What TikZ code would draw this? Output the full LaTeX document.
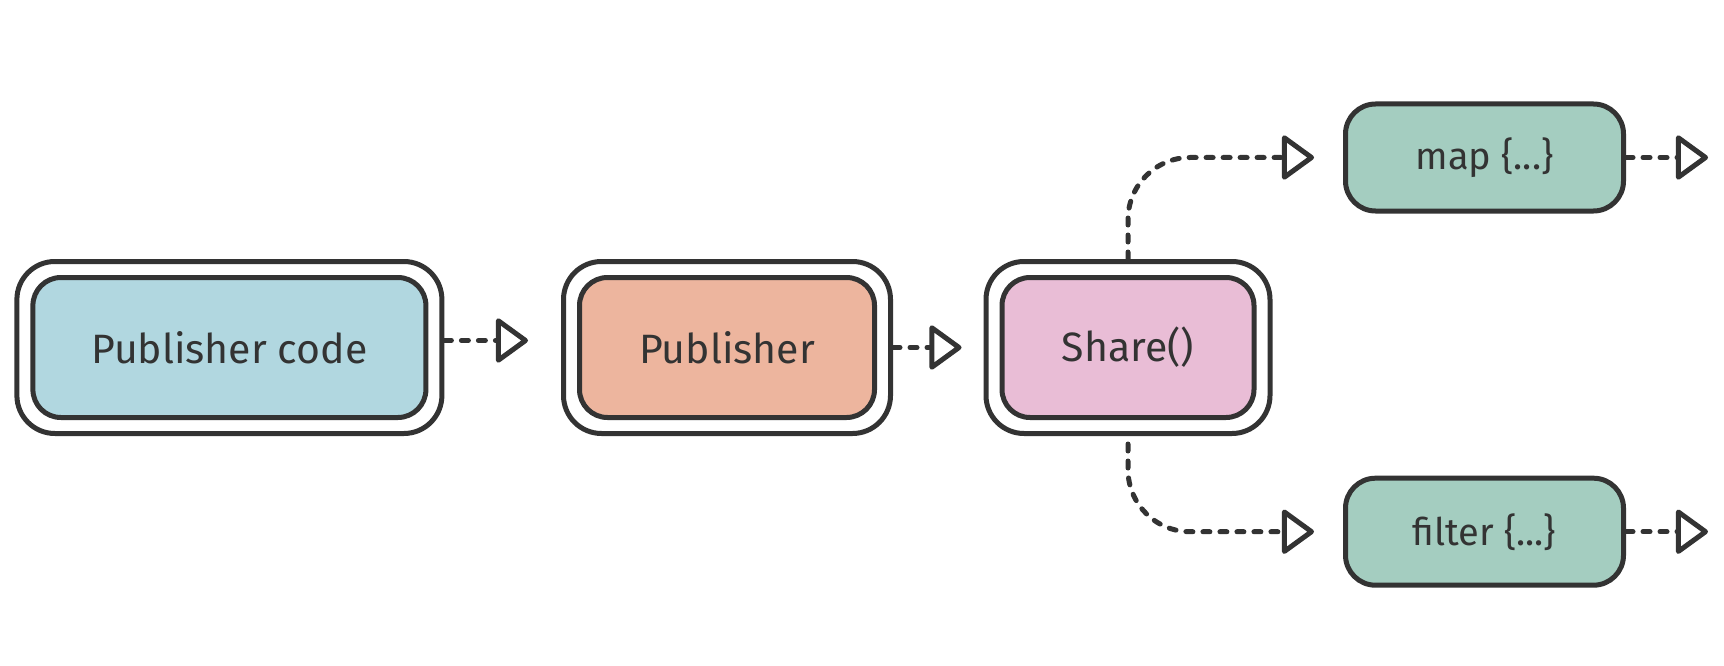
\documentclass[tikz,border=0pt]{standalone}
\usepackage{fontspec}
\setmainfont{Fira Sans}
\usetikzlibrary{arrows.meta,fit}
\definecolor{ink}{HTML}{333333}
\definecolor{pcfill}{HTML}{B1D7E0}
\definecolor{pubfill}{HTML}{EDB59E}
\definecolor{shfill}{HTML}{E9BDD6}
\definecolor{opfill}{HTML}{A4CDC0}
\tikzset{
  innerbox/.style={draw=ink, line width=5pt, rounded corners=28pt, inner sep=0pt,
    minimum height=140pt, text=ink, font=\fontsize{41}{47}\selectfont},
  outerframe/.style={draw=ink, line width=5pt, rounded corners=38pt, inner sep=13.5pt},
  opbox/.style={draw=ink, line width=5pt, rounded corners=30pt, inner sep=0pt,
    minimum width=278pt, minimum height=107pt, fill=opfill, text=ink,
    font=\fontsize{38}{44}\selectfont},
  conn/.style={draw=ink, line width=5pt, line cap=round, dash pattern=on 7pt off 10pt,
    -{Triangle[open, length=34pt, width=48pt, line join=round, line cap=round]}},
}
\begin{document}
\begin{tikzpicture}[x=1pt,y=-1pt]
\useasboundingbox (0,0) rectangle (1724,666);
% main boxes
\node[innerbox, fill=pcfill, minimum width=393pt] (pc) at (229.4,347.5) {Publisher code};
\node[outerframe, fit=(pc)] (pcO) {};
\node[innerbox, fill=pubfill, minimum width=295pt] (pub) at (727,347.5) {Publisher};
\node[outerframe, fit=(pub)] (pubO) {};
\node[innerbox, fill=shfill, minimum width=252pt] (sh) at (1128,347.5) {Share()};
\node[outerframe, fit=(sh)] (shO) {};
% operators
\node[opbox] (map) at (1484.5,157.5) {map \{...\}};
\node[opbox] (filter) at (1484.5,531.7) {filter \{...\}};
\coordinate (mapout) at ([xshift=82pt]map.east);
\coordinate (filterout) at ([xshift=82pt]filter.east);
% connectors
\draw[conn] ([yshift=7pt]pcO.east) -- ([xshift=-33pt,yshift=7pt]pubO.west);
\draw[conn] (pubO.east) -- ([xshift=-22pt]shO.west);
\draw[conn, rounded corners=62pt] (shO.north) |- ([xshift=-29pt]map.west);
\draw[conn, rounded corners=62pt] ([yshift=-8pt]shO.south) |- ([xshift=-29pt]filter.west);
\draw[conn] (map.east) -- (mapout);
\draw[conn] (filter.east) -- (filterout);
\end{tikzpicture}
\end{document}
